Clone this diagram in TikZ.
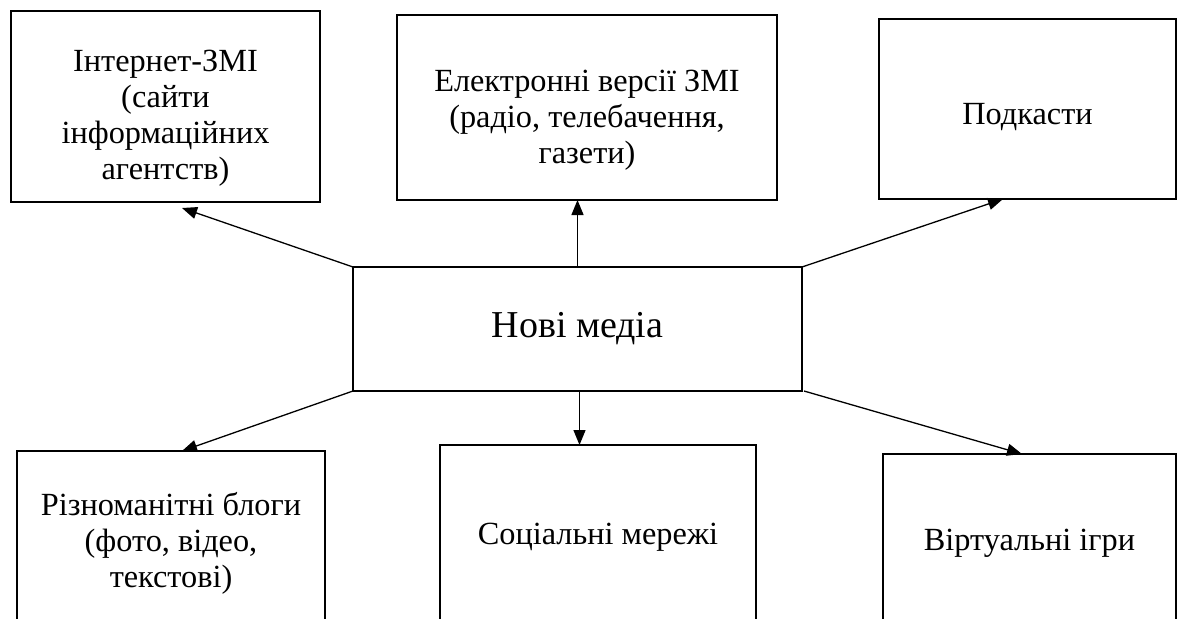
\documentclass[tikz,border=0pt]{standalone}
\usepackage{fontspec}
\setmainfont{Liberation Serif}
\usetikzlibrary{arrows.meta}
\begin{document}
\begin{tikzpicture}[x=1pt,y=-1pt,
  box/.style={draw, line width=2.4pt, rectangle, inner sep=0pt, outer sep=0pt, anchor=north west, align=center, font=\fontsize{32.3}{36}\selectfont},
  conn/.style={-{Triangle[length=15pt,width=12pt]}, line width=1.3pt}]
\useasboundingbox (0,0) rectangle (1177,618);
\clip (0,0) rectangle (1177,618);
\node[box, minimum width=309pt, minimum height=191pt] (tl) at (11,11) {\rule{0pt}{45pt}Інтернет-ЗМІ\\(сайти\\інформаційних\\агентств)};
\node[box, minimum width=380pt, minimum height=185pt] (tm) at (397,15) {\rule{0pt}{46pt}Електронні версії ЗМІ\\(радіо, телебачення,\\газети)};
\node[box, minimum width=297pt, minimum height=180pt] (tr) at (879,19) {\rule{0pt}{38pt}Подкасти};
\node[box, minimum width=449pt, minimum height=124pt, font=\fontsize{38}{44}\selectfont] (c) at (353,267) {Нові медіа};
\node[box, minimum width=308pt, minimum height=184pt] (bl) at (17,451) {Різноманітні блоги\\(фото, відео,\\текстові)};
\node[box, minimum width=316pt, minimum height=184pt] (bm) at (440,445) {Соціальні мережі};
\node[box, minimum width=293pt, minimum height=178pt] (br) at (883,454) {Віртуальні ігри};
\coordinate (tlt) at (182,208);
\coordinate (trt) at (1003,199);
\coordinate (blt) at (182,451);
\coordinate (brt) at (1022,454);
\draw[conn] (c.north west) -- (tlt);
\draw[conn] (c.north) -- (c.north |- tm.south);
\draw[conn] (c.north east) -- (trt);
\draw[conn] (c.south west) -- (blt);
\draw[conn] ([xshift=2pt]c.south) -- ([xshift=2pt]c.south |- bm.north);
\draw[conn] ([xshift=2pt]c.south east) -- (brt);
\end{tikzpicture}
\end{document}
